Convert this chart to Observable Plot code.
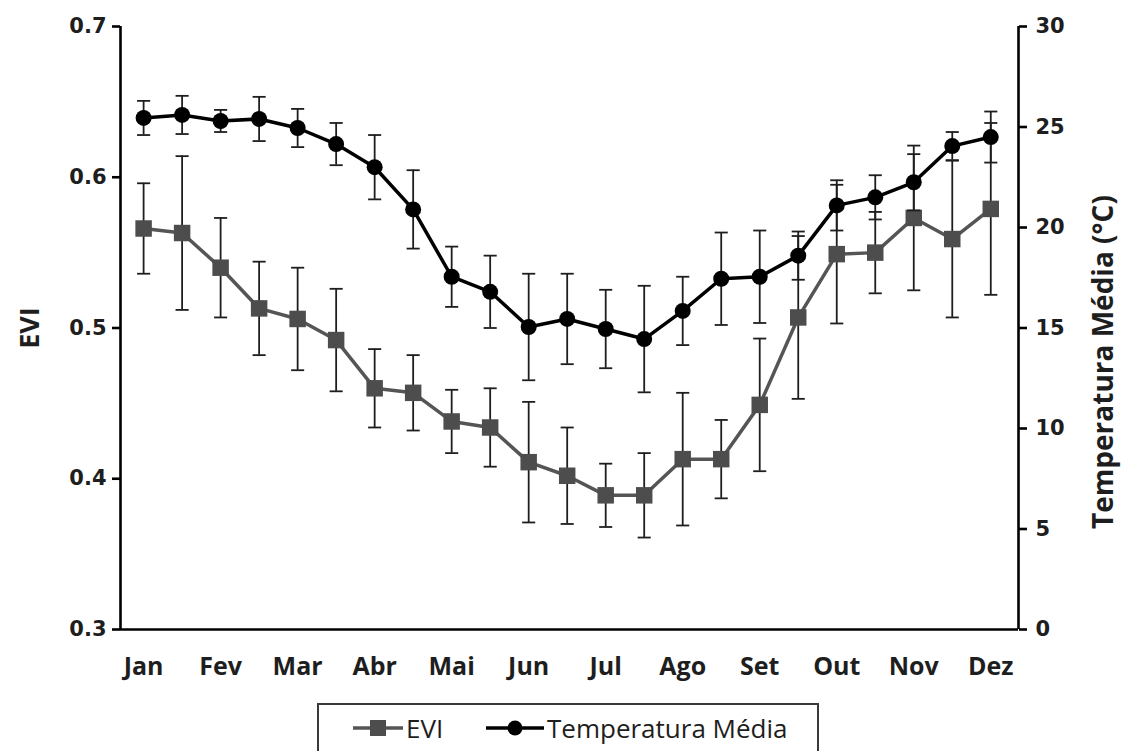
<!DOCTYPE html>
<html>
<head>
<meta charset="utf-8">
<script src="https://cdn.jsdelivr.net/npm/d3@7"></script>
<script src="https://cdn.jsdelivr.net/npm/@observablehq/plot@0.6"></script>
<style>
  body { margin: 0; background: #fff; }
  #wrap { position: relative; width: 1125px; height: 751px; overflow: hidden; background: #fff; }
  #chart { position: absolute; left: 0; top: 0; }
  #legend { position: absolute; left: 317px; top: 703px; width: 502px; height: 70px; box-sizing: border-box;
            border: 2px solid #3a3a3a; font-family: "Open Sans", sans-serif; font-size: 26px; color: #1e1e1e; }
  .item { position: absolute; top: 0; height: 46px; display: flex; align-items: center; }
  .item svg { display: block; }
  .item span { line-height: 1; margin-left: 2px; }
</style>
</head>
<body>
<div id="wrap">
  <div id="chart"></div>
  <div id="legend">
    <div class="item" style="left:33px"><svg width="52" height="20"><line x1="1" x2="51" y1="10" y2="10" stroke="#555" stroke-width="3.5"/><rect x="18" y="2" width="16" height="16" fill="#4d4d4d"/></svg><span>EVI</span></div>
    <div class="item" style="left:166px"><svg width="60" height="20"><line x1="1" x2="59" y1="10" y2="10" stroke="#000" stroke-width="3.5"/><circle cx="30" cy="10" r="7.5" fill="#000"/></svg><span>Temperatura Média</span></div>
  </div>
</div>
<script>
// ---- data (23 sixteen-day composites) ----
const months = ["Jan", "Fev", "Mar", "Abr", "Mai", "Jun", "Jul", "Ago", "Set", "Out", "Nov", "Dez"];
const evi = [0.566, 0.563, 0.540, 0.513, 0.506, 0.492, 0.460, 0.457, 0.438, 0.434, 0.411, 0.402,
             0.389, 0.389, 0.413, 0.413, 0.449, 0.507, 0.549, 0.550, 0.573, 0.559, 0.579];
const eviErr = [0.030, 0.051, 0.033, 0.031, 0.034, 0.034, 0.026, 0.025, 0.021, 0.026, 0.040, 0.032,
                0.021, 0.028, 0.044, 0.026, 0.044, 0.054, 0.046, 0.027, 0.048, 0.052, 0.057];
const temp = [25.45, 25.6, 25.3, 25.4, 24.95, 24.15, 23.0, 20.9, 17.55, 16.8, 15.05, 15.45,
              14.95, 14.45, 15.85, 17.45, 17.55, 18.6, 21.1, 21.5, 22.25, 24.05, 24.5];
const tempErr = [0.85, 0.95, 0.55, 1.1, 0.95, 1.05, 1.6, 1.95, 1.5, 1.8, 2.65, 2.25,
                 1.95, 2.65, 1.7, 2.3, 2.3, 1.2, 1.25, 1.1, 1.4, 0.7, 1.27];
const eviTicks = [0.3, 0.4, 0.5, 0.6, 0.7];
const tempTicks = [0, 5, 10, 15, 20, 25, 30];

// ---- scales ----
const eviDomain = [0.3, 0.7];
const tempDomain = [0, 30];
const xDomain = [-0.6, 22.72];
const toY = t => eviDomain[0] + (t - tempDomain[0]) / (tempDomain[1] - tempDomain[0]) * (eviDomain[1] - eviDomain[0]);
const fromY = y => tempDomain[0] + (y - eviDomain[0]) / (eviDomain[1] - eviDomain[0]) * (tempDomain[1] - tempDomain[0]);
const capHalf = 0.17;

const rows = evi.map((v, i) => ({
  i, evi: v, eLo: v - eviErr[i], eHi: v + eviErr[i],
  t: toY(temp[i]), tLo: toY(temp[i] - tempErr[i]), tHi: toY(temp[i] + tempErr[i])
}));

const errColor = "#1e1e1e";
const tickFont = {fontFamily: "DejaVu Sans", fontWeight: "bold", fontSize: 21, fill: "#1e1e1e"};
const titleFont = {fontFamily: "Open Sans", fontWeight: "bold", fill: "#1e1e1e", textAnchor: "middle"};

const chart = Plot.plot({
  width: 1125,
  height: 700,
  marginLeft: 120,
  marginRight: 107,
  marginTop: 26,
  marginBottom: 71,
  x: {type: "linear", domain: xDomain, axis: null},
  y: {domain: eviDomain, axis: null},
  marks: [
    // axes lines
    Plot.ruleX([xDomain[0], xDomain[1]], {stroke: "#000", strokeWidth: 2.6}),
    Plot.ruleY([eviDomain[0]], {stroke: "#000", strokeWidth: 2.6}),
    Plot.axisY(eviTicks, {anchor: "left", tickSize: 8, tickPadding: 6, strokeWidth: 2.6, label: null,
      tickFormat: d => d.toFixed(1), ...tickFont}),
    Plot.axisY(tempTicks.map(toY), {anchor: "right", tickSize: 8, tickPadding: 9, strokeWidth: 2.6, label: null,
      tickFormat: d => String(Math.round(fromY(d))), ...tickFont}),
    Plot.axisX(d3.range(0, 23, 2), {anchor: "bottom", tickSize: 0, tickPadding: 28, label: null,
      tickFormat: i => months[i / 2], fontFamily: "Open Sans", fontWeight: "bold", fontSize: 25, fill: "#1e1e1e"}),
    // axis titles
    Plot.text(["EVI"], {frameAnchor: "left", dx: -90, rotate: -90, fontSize: 27, ...titleFont}),
    Plot.text(["Temperatura Média (°C)"], {frameAnchor: "right", dx: 86, dy: 34, rotate: -90, fontSize: 28, ...titleFont}),
    // EVI series
    Plot.line(rows, {x: "i", y: "evi", stroke: "#555555", strokeWidth: 3.5}),
    Plot.ruleX(rows, {x: "i", y1: "eLo", y2: "eHi", stroke: errColor, strokeWidth: 1.8}),
    Plot.link(rows, {x1: d => d.i - capHalf, x2: d => d.i + capHalf, y1: "eHi", y2: "eHi", stroke: errColor, strokeWidth: 1.8}),
    Plot.link(rows, {x1: d => d.i - capHalf, x2: d => d.i + capHalf, y1: "eLo", y2: "eLo", stroke: errColor, strokeWidth: 1.8}),
    Plot.dot(rows, {x: "i", y: "evi", symbol: "square", r: 9.3, fill: "#4d4d4d", stroke: null}),
    // Temperature series
    Plot.line(rows, {x: "i", y: "t", stroke: "#000", strokeWidth: 3.5}),
    Plot.ruleX(rows, {x: "i", y1: "tLo", y2: "tHi", stroke: errColor, strokeWidth: 1.8}),
    Plot.link(rows, {x1: d => d.i - capHalf, x2: d => d.i + capHalf, y1: "tHi", y2: "tHi", stroke: errColor, strokeWidth: 1.8}),
    Plot.link(rows, {x1: d => d.i - capHalf, x2: d => d.i + capHalf, y1: "tLo", y2: "tLo", stroke: errColor, strokeWidth: 1.8}),
    Plot.dot(rows, {x: "i", y: "t", r: 8, fill: "#000", stroke: null})
  ]
});
document.getElementById("chart").appendChild(chart);
</script>
</body>
</html>
